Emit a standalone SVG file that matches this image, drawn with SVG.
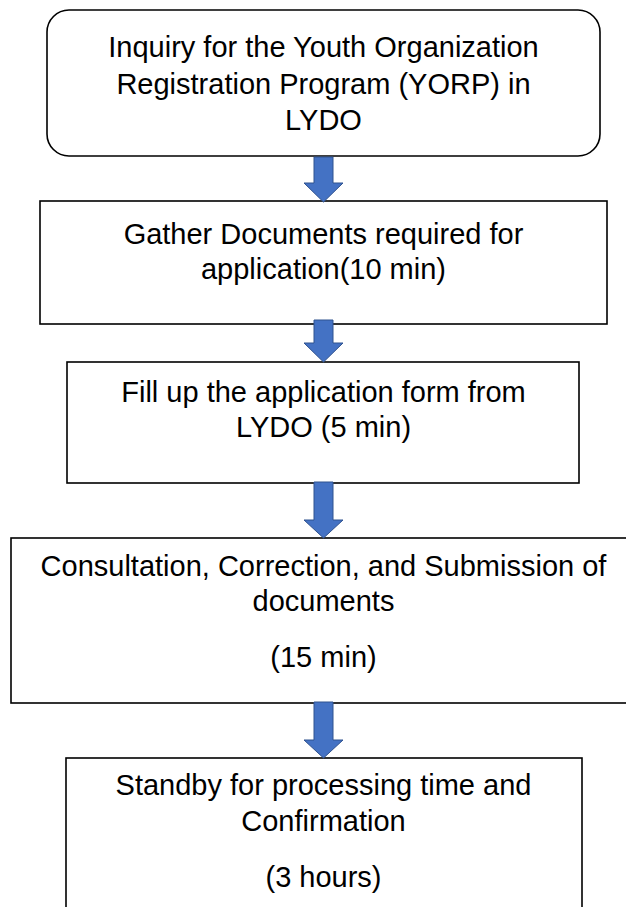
<svg xmlns="http://www.w3.org/2000/svg" width="626" height="907" viewBox="0 0 626 907">
<style>
.box{fill:#fff;stroke:#000;stroke-width:1.6}
.t{font-family:"Liberation Sans",Arial,sans-serif;font-size:29px;fill:#000;text-anchor:middle}
.arr{fill:#4472C4;stroke:#2F528F;stroke-width:1}
</style>
<rect width="626" height="907" fill="#fff"/>
<g id="n1">
<rect class="box" x="47" y="10" width="553" height="146" rx="22" ry="22"/>
<text class="t" x="323.5" y="57">Inquiry for the Youth Organization</text>
<text class="t" x="323.5" y="94">Registration Program (YORP) in</text>
<text class="t" x="323.5" y="130">LYDO</text>
</g>
<g id="n2">
<rect class="box" x="40" y="201" width="567" height="123"/>
<text class="t" x="323.5" y="244">Gather Documents required for</text>
<text class="t" x="323.5" y="279">application(10 min)</text>
</g>
<g id="n3">
<rect class="box" x="67" y="362" width="512" height="121"/>
<text class="t" x="323.5" y="402">Fill up the application form from</text>
<text class="t" x="323.5" y="437">LYDO (5 min)</text>
</g>
<g id="n4">
<rect class="box" x="11" y="538" width="630" height="165"/>
<text class="t" x="323.5" y="576">Consultation, Correction, and Submission of</text>
<text class="t" x="323.5" y="611">documents</text>
<text class="t" x="323.5" y="667">(15 min)</text>
</g>
<g id="n5">
<rect class="box" x="66" y="758" width="516" height="170"/>
<text class="t" x="323.5" y="795">Standby for processing time and</text>
<text class="t" x="323.5" y="831">Confirmation</text>
<text class="t" x="323.5" y="887">(3 hours)</text>
</g>
<g id="connectors">
<polygon class="arr" points="314,157 333,157 333,183 343,183 323.5,202 304,183 314,183"/>
<polygon class="arr" points="314,320 333,320 333,343 343,343 323.5,362 304,343 314,343"/>
<polygon class="arr" points="314,482 333,482 333,520 343,520 323.5,538 304,520 314,520"/>
<polygon class="arr" points="314,702 333,702 333,740 343,740 323.5,758 304,740 314,740"/>
</g>
</svg>
